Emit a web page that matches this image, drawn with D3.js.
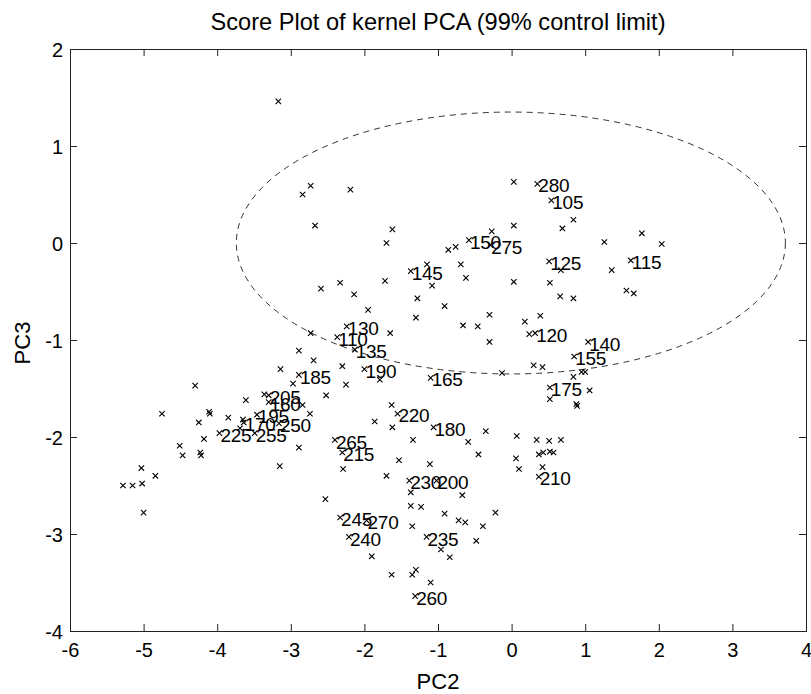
<!DOCTYPE html>
<html>
<head>
<meta charset="utf-8">
<script src="https://cdn.jsdelivr.net/npm/d3@7"></script>
<style>
  html, body { margin: 0; padding: 0; background: #fff; }
  svg { display: block; font-family: "Liberation Sans", Arial, Helvetica, sans-serif; }
</style>
</head>
<body>
<svg id="chart" width="811" height="694"></svg>
<script>
// ---- data ----
const titleText = "Score Plot of kernel PCA (99% control limit)";
const xLabel = "PC2";
const yLabel = "PC3";
const xTicks = [-6, -5, -4, -3, -2, -1, 0, 1, 2, 3, 4];
const yTicks = [-4, -3, -2, -1, 0, 1, 2];
const xDomain = [-6, 4];
const yDomain = [-4, 2];

// 99% control limit ellipse: center and semi-axes (PC2, PC3)
const ellipseCenter = [-0.01, 0.0];
const ellipseAxes = [3.73, 1.35];

// unlabeled scores [PC2, PC3]
const pc2 = [
  -3.17, -2.73, -2.84, -2.67, -2.19,
  0.03, 0.84, 0.69, 0.03, -1.62, -1.70, -0.27, -0.86, -0.76, -0.69, -0.62, -1.15, -1.08, -1.72, -2.33,
  -2.14, -1.95, -1.28, -0.91, -1.30, -0.30, -0.66, -0.46, 0.18, 0.39, 0.03, 0.67, 0.52, 0.66, 0.84,
  1.26, 1.77, 2.04, 1.36, 1.56, 1.66,
  -2.59, -2.73, -2.89, -2.69, -3.14, -2.30, -2.97, -2.25, -2.52, -4.30, -3.61, -3.36, -2.84, -2.74,
  -4.75, -4.11, -4.10, -3.85, -4.25, -3.65, -3.69, -4.18, -4.51, -4.47, -4.23, -4.22, -2.89, -3.15,
  -5.03, -4.84, -2.29,
  -0.30, 0.24, -1.65, -1.79, -0.13, 0.30, 0.42, 0.95, 1.00, 0.84, 0.52, 0.88, 0.89, 1.06,
  -1.63, -1.86, -1.62, -0.35, -1.34, -0.59, -0.45, 0.07, 0.34, 0.51, 0.67, 0.37, 0.43, 0.52, 0.57,
  0.06, 0.10, 0.42, -1.53, -1.11, -1.70, -1.37, -0.67, -1.37, -1.23, -0.91, -0.22,
  -2.53, -1.35, -0.72, -0.63, -0.39, -0.48, -0.96, -0.84, -1.90, -1.63, -1.35, -1.30, -1.10,
  -5.28, -5.15, -5.02, -5.00
];
const pc3 = [
  1.46, 0.59, 0.50, 0.18, 0.55,
  0.63, 0.24, 0.15, 0.18, 0.14, 0.00, 0.12, -0.07, -0.04, -0.22, -0.36, -0.22, -0.44, -0.39, -0.41,
  -0.53, -0.69, -0.57, -0.65, -0.77, -0.74, -0.85, -0.86, -0.81, -0.75, -0.40, -0.28, -0.41, -0.55, -0.57,
  0.01, 0.10, -0.01, -0.28, -0.49, -0.52,
  -0.47, -0.93, -1.11, -1.21, -1.30, -1.27, -1.45, -1.46, -1.57, -1.47, -1.62, -1.56, -1.67, -1.76,
  -1.76, -1.74, -1.76, -1.80, -1.85, -1.82, -1.91, -2.02, -2.09, -2.19, -2.16, -2.19, -2.11, -2.30,
  -2.32, -2.40, -2.33,
  -1.02, -0.94, -0.93, -1.41, -1.34, -1.26, -1.28, -1.33, -1.33, -1.38, -1.61, -1.66, -1.68, -1.52,
  -1.67, -1.84, -1.90, -1.94, -2.03, -2.05, -2.18, -1.99, -2.03, -2.04, -2.03, -2.18, -2.16, -2.15, -2.16,
  -2.22, -2.33, -2.31, -2.24, -2.28, -2.40, -2.57, -2.60, -2.71, -2.72, -2.79, -2.78,
  -2.64, -2.92, -2.86, -2.88, -2.92, -3.07, -3.16, -3.24, -3.23, -3.42, -3.42, -3.37, -3.50,
  -2.50, -2.50, -2.48, -2.78
];

// labeled samples
const sampleIds = [280, 105, 150, 275, 125, 115, 145, 130, 110, 135, 140, 120, 155, 185, 190, 165, 175,
  205, 160, 195, 170, 250, 225, 255, 220, 180, 265, 215, 230, 200, 210, 245, 270, 240, 235, 260];
const samplePC2 = [0.35, 0.54, -0.58, -0.29, 0.51, 1.62, -1.37, -2.24, -2.37, -2.13, 1.04, 0.32, 0.85, -2.89, -2.00, -1.10, 0.52,
  -3.30, -3.30, -3.46, -3.64, -3.16, -3.97, -3.49, -1.55, -1.06, -2.40, -2.30, -1.39, -1.02, 0.37, -2.33, -1.97, -2.21, -1.155, -1.31];
const samplePC3 = [0.61, 0.44, 0.03, -0.02, -0.19, -0.18, -0.29, -0.86, -0.97, -1.10, -1.02, -0.93, -1.17, -1.36, -1.30, -1.39, -1.49,
  -1.57, -1.64, -1.77, -1.85, -1.86, -1.96, -1.96, -1.76, -1.90, -2.03, -2.16, -2.45, -2.45, -2.41, -2.83, -2.86, -3.03, -3.03, -3.64];

// ---- drawing ----
const W = 811, H = 694;
const margin = { left: 70, right: 5, top: 49, bottom: 63 };
const svg = d3.select("#chart");
const x = d3.scaleLinear().domain(xDomain).range([margin.left, W - margin.right]);
const y = d3.scaleLinear().domain(yDomain).range([H - margin.bottom, margin.top]);
const ink = "#222";
const tickLen = 7;
const fmt = d => String(d);

// axes (ticks inward, box)
const gx = svg.append("g").attr("transform", `translate(0,${y(yDomain[0])})`)
  .call(d3.axisBottom(x).tickValues(xTicks).tickSize(-tickLen).tickPadding(12).tickFormat(fmt));
const gxt = svg.append("g").attr("transform", `translate(0,${y(yDomain[1])})`)
  .call(d3.axisTop(x).tickValues(xTicks).tickSize(-tickLen).tickFormat(""));
const gy = svg.append("g").attr("transform", `translate(${x(xDomain[0])},0)`)
  .call(d3.axisLeft(y).tickValues(yTicks).tickSize(-tickLen).tickPadding(7).tickFormat(fmt));
const gyr = svg.append("g").attr("transform", `translate(${x(xDomain[1])},0)`)
  .call(d3.axisRight(y).tickValues(yTicks).tickSize(-tickLen).tickFormat(""));
[gx, gxt, gy, gyr].forEach(g => {
  g.select(".domain").attr("stroke", ink).attr("stroke-width", 1);
  g.selectAll(".tick line").attr("stroke", ink);
  g.selectAll(".tick text").attr("fill", "#000").style("font-size", "20px");
});
gx.selectAll(".tick text").attr("dy", "0.68em");
gy.selectAll(".tick text").attr("dy", "0.35em");

// ellipse
svg.append("ellipse")
  .attr("cx", x(ellipseCenter[0])).attr("cy", y(ellipseCenter[1]))
  .attr("rx", x(ellipseCenter[0] + ellipseAxes[0]) - x(ellipseCenter[0]))
  .attr("ry", y(ellipseCenter[1]) - y(ellipseCenter[1] + ellipseAxes[1]))
  .attr("fill", "none").attr("stroke", "#333").attr("stroke-width", 1)
  .attr("stroke-dasharray", "6,5");

// markers
const s = 2.7;
function cross(g, px, py) {
  g.append("path")
    .attr("d", `M${px - s},${py - s}L${px + s},${py + s}M${px - s},${py + s}L${px + s},${py - s}`)
    .attr("stroke", "#000").attr("stroke-width", 1.1).attr("fill", "none");
}
const gm = svg.append("g");
pc2.forEach((v, i) => cross(gm, x(v), y(pc3[i])));
samplePC2.forEach((v, i) => cross(gm, x(v), y(samplePC3[i])));

// sample labels
svg.append("g").selectAll("text").data(sampleIds).join("text")
  .attr("x", (d, i) => x(samplePC2[i]) + 1)
  .attr("y", (d, i) => y(samplePC3[i]) + 2)
  .attr("dy", "0.35em")
  .style("font-size", "19px")
  .style("letter-spacing", "-0.3px")
  .attr("fill", "#000")
  .text(d => d);

// titles
svg.append("text").attr("x", (x(xDomain[0]) + x(xDomain[1])) / 2).attr("y", 22)
  .attr("text-anchor", "middle").attr("dy", "0.35em").style("font-size", "23.6px").text(titleText);
svg.append("text").attr("x", (x(xDomain[0]) + x(xDomain[1])) / 2).attr("y", 681)
  .attr("text-anchor", "middle").attr("dy", "0.35em").style("font-size", "22px").text(xLabel);
svg.append("text").attr("transform", `translate(22,343) rotate(-90)`)
  .attr("text-anchor", "middle").attr("dy", "0.35em").style("font-size", "22px").text(yLabel);
</script>
</body>
</html>
